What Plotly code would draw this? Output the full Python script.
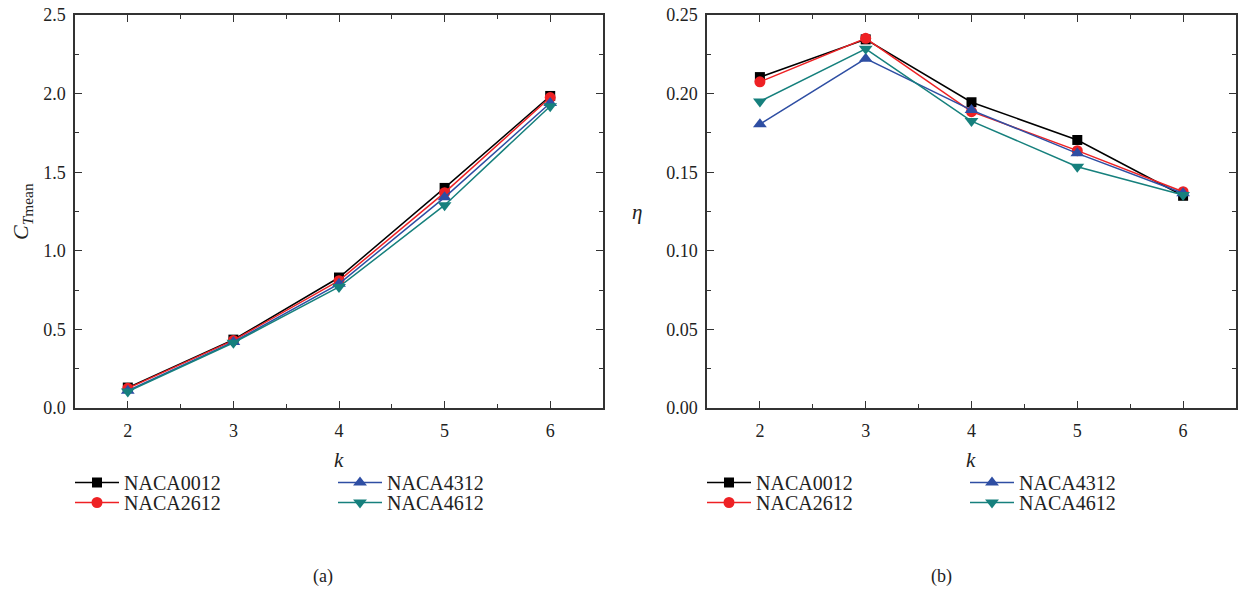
import plotly.graph_objects as go

k = [2, 3, 4, 5, 6]
names = ["NACA0012", "NACA2612", "NACA4312", "NACA4612"]
ct_mean = {
    "NACA0012": [0.13, 0.435, 0.83, 1.40, 1.985],
    "NACA2612": [0.125, 0.43, 0.81, 1.37, 1.975],
    "NACA4312": [0.11, 0.42, 0.79, 1.34, 1.94],
    "NACA4612": [0.105, 0.415, 0.77, 1.29, 1.92],
}
eta = {
    "NACA0012": [0.2105, 0.2345, 0.1945, 0.1705, 0.1350],
    "NACA2612": [0.2075, 0.2352, 0.1885, 0.1637, 0.1376],
    "NACA4312": [0.1805, 0.2222, 0.1895, 0.1620, 0.1366],
    "NACA4612": [0.1950, 0.2285, 0.1825, 0.1535, 0.1355],
}
colors = {"NACA0012": "#000000", "NACA2612": "#EE2124", "NACA4312": "#2E4EA3", "NACA4612": "#16807D"}
symbols = {"NACA0012": "square", "NACA2612": "circle", "NACA4312": "triangle-up", "NACA4612": "triangle-down"}
sizes = {"NACA0012": 10, "NACA2612": 11, "NACA4312": 12, "NACA4612": 12}

W, H = 1239, 590
def px(x):
    return x / W
def py(y):
    return 1 - y / H

FONT = "Liberation Serif, Times New Roman, DejaVu Serif, serif"
TXT = "#222222"
fig = go.Figure()

# legend placement (left x of symbol, top y) per panel and series
leg_pos = {
    "NACA0012": (0, 463), "NACA2612": (0, 483),
    "NACA4312": (263, 463), "NACA4612": (263, 483),
}
panel_x = {"a": 70, "b": 702}

legend_layout = {}
li = 0
for panel, data, xa, ya in (("a", ct_mean, "x", "y"), ("b", eta, "x2", "y2")):
    for n in names:
        li += 1
        lname = "legend" if li == 1 else f"legend{li}"
        fig.add_trace(go.Scatter(
            x=k, y=data[n], name=n, mode="lines+markers",
            line=dict(color=colors[n], width=1.5),
            marker=dict(symbol=symbols[n], size=sizes[n], color=colors[n]),
            xaxis=xa, yaxis=ya, legend=lname))
        dx, ty = leg_pos[n]
        legend_layout[lname] = dict(
            x=px(panel_x[panel] + dx), y=py(ty), xanchor="left", yanchor="top",
            orientation="v", bgcolor="rgba(0,0,0,0)", itemwidth=44,
            font=dict(family=FONT, size=20, color=TXT))

axis_common = dict(
    showline=True, linecolor="#333333", linewidth=1.5, mirror="allticks",
    ticks="inside", ticklen=7, tickwidth=1.3, tickcolor="#333333",
    showgrid=False, zeroline=False, automargin=False,
    tickfont=dict(family=FONT, size=18, color=TXT),
)

fig.update_layout(
    template="none",
    width=W, height=H,
    margin=dict(l=0, r=0, t=0, b=0),
    paper_bgcolor="white", plot_bgcolor="white",
    font=dict(family=FONT, color=TXT),
    xaxis=dict(domain=[px(75), px(603)], range=[1.5, 6.5], dtick=1, tick0=0,
               ticklabelstandoff=6,
               minor=dict(ticks="inside", ticklen=4, dtick=0.5, tickcolor="#333333"),
               anchor="y", **axis_common),
    yaxis=dict(domain=[py(408), py(15)], range=[0, 2.5], dtick=0.5, tickformat=".1f",
               ticklabelstandoff=4,
               minor=dict(ticks="inside", ticklen=4, dtick=0.25, tickcolor="#333333"),
               anchor="x", **axis_common),
    xaxis2=dict(domain=[px(707), px(1236)], range=[1.5, 6.5], dtick=1, tick0=0,
                ticklabelstandoff=6,
                minor=dict(ticks="inside", ticklen=4, dtick=0.5, tickcolor="#333333"),
                anchor="y2", **axis_common),
    yaxis2=dict(domain=[py(408), py(15)], range=[0, 0.25], dtick=0.05, tickformat=".2f",
                ticklabelstandoff=4,
                minor=dict(ticks="inside", ticklen=4, dtick=0.025, tickcolor="#333333"),
                anchor="x2", **axis_common),
    showlegend=True,
    **legend_layout,
)

def note(text, x, y, size, angle=0):
    return dict(text=text, x=px(x), y=py(y), xref="paper", yref="paper",
                xanchor="center", yanchor="middle", showarrow=False, textangle=angle,
                font=dict(family=FONT, size=size, color=TXT))

fig.update_layout(annotations=[
    note("<i>k</i>", 339, 460, 21),
    note("<i>k</i>", 971, 460, 21),
    note("<i>C</i><sub><i>T</i>mean</sub>", 22, 212, 22, -90),
    note("<i>η</i>", 637, 212, 21),
    note("(a)", 323, 576, 18),
    note("(b)", 941, 576, 18),
])

fig.write_html("out.html")
